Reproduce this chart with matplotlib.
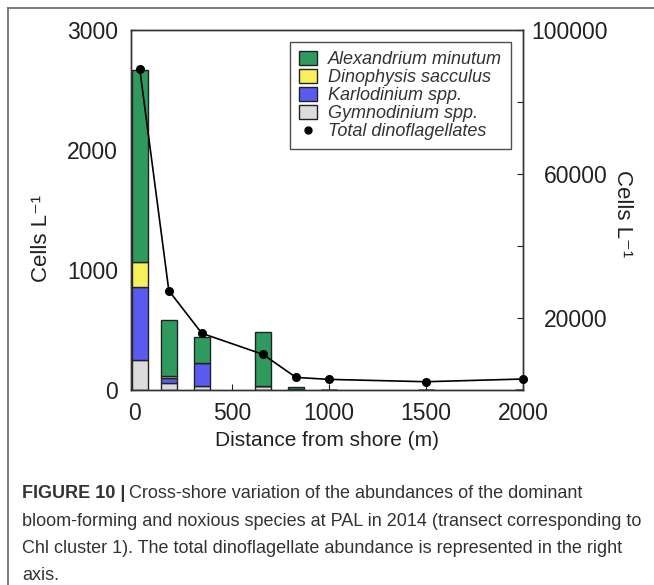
import numpy as np
import matplotlib.pyplot as plt
from matplotlib.lines import Line2D

plt.rcParams['font.family'] = ['Liberation Sans', 'DejaVu Sans']

# Stations along the transect (m from shore)
distance = [25, 175, 345, 660, 830, 1000, 1500, 2000]

# Species abundances (cells per litre), left axis
alexandrium = [1605, 463, 222, 456, 20, 0, 0, 0]
dinophysis = [205, 20, 0, 0, 0, 0, 0, 0]
karlodinium = [610, 40, 192, 0, 0, 0, 0, 0]
gymnodinium = [250, 60, 30, 30, 5, 0, 0, 0]

# Total dinoflagellates (cells per litre), right axis
total_dino = [89200, 27600, 15750, 9900, 3500, 2950, 2300, 3050]

species = [
    ('Gymnodinium spp.', gymnodinium, '#dcdcdc'),
    ('Karlodinium spp.', karlodinium, '#5a5af0'),
    ('Dinophysis sacculus', dinophysis, '#f7f05a'),
    ('Alexandrium minutum', alexandrium, '#2e9a5e'),
]

fig = plt.figure(figsize=(6.54, 5.85), dpi=100)
ax = fig.add_axes([131 / 654, 1 - 390 / 585, 392 / 654, 360 / 585])

bottom = np.zeros(len(distance))
handles = {}
for name, vals, col in species:
    b = ax.bar(distance, vals, width=82, bottom=bottom, color=col,
               edgecolor='#222222', linewidth=1.0, label=name, zorder=2)
    handles[name] = b
    bottom += np.array(vals)

ax.set_xlim(-20, 2000)
ax.set_ylim(0, 3000)
ax.set_xticks([0, 500, 1000, 1500, 2000])
ax.set_yticks([0, 1000, 2000, 3000])
ax.tick_params(direction='in', length=4, labelsize=16.5, colors='#222222')
ax.tick_params(axis='x', pad=9)
ax.tick_params(axis='y', pad=9.5)
ax.set_xlabel('Distance from shore (m)', fontsize=15, color='#222222', va='center')
ax.xaxis.set_label_coords(0.5, -0.139)
ax.set_ylabel('Cells L⁻¹', fontsize=16, color='#222222', va='center')
ax.yaxis.set_label_coords(-0.228, 0.42)

# Total abundance on the secondary axis
ax2 = ax.twinx()
line, = ax2.plot(distance, total_dino, color='black', linewidth=1.2,
                 marker='o', markersize=5.5, clip_on=False, zorder=3)
ax2.set_ylim(0, 100000)
ax2.set_yticks([0, 20000, 40000, 60000, 80000, 100000])
ax2.set_yticklabels(['', '20000', '', '60000', '', '100000'])
ax2.tick_params(direction='in', length=4, labelsize=16.5, colors='#222222', pad=61)
for lbl in ax2.get_yticklabels():
    lbl.set_horizontalalignment('right')
ax2.set_ylabel('Cells L⁻¹', fontsize=16, rotation=-90, color='#222222', va='center')
ax2.yaxis.set_label_coords(1.255, 0.49)

for a in (ax, ax2):
    for s in a.spines.values():
        s.set_linewidth(1.0)
        s.set_color('#333333')

dot = Line2D([], [], color='black', marker='o', markersize=5, linestyle='None')
leg_handles = [handles['Alexandrium minutum'], handles['Dinophysis sacculus'],
               handles['Karlodinium spp.'], handles['Gymnodinium spp.'], dot]
leg_labels = ['Alexandrium minutum', 'Dinophysis sacculus', 'Karlodinium spp.',
              'Gymnodinium spp.', 'Total dinoflagellates']
leg = ax2.legend(leg_handles, leg_labels, loc='upper right',
                 bbox_to_anchor=(0.97, 0.967), prop={'style': 'italic', 'size': 13},
                 frameon=True, fancybox=False, edgecolor='#222222',
                 handlelength=1.0, handleheight=0.8, handletextpad=0.6,
                 labelspacing=0.05, borderpad=0.5, borderaxespad=0)
leg.get_frame().set_linewidth(1.0)
for t in leg.get_texts():
    t.set_color('#333333')

# Outer frame lines
fig.add_artist(Line2D([8 / 654, 1], [1 - 8 / 585, 1 - 8 / 585],
                      transform=fig.transFigure, color='#666666', linewidth=1.2))
fig.add_artist(Line2D([8 / 654, 8 / 654], [0, 1 - 8 / 585],
                      transform=fig.transFigure, color='#666666', linewidth=1.2))

# Caption
cap_x = 22 / 654
cap_size = 13
head = fig.text(cap_x, 1 - 493 / 585, 'FIGURE 10 |', fontsize=cap_size,
                fontweight='bold', color='#333333', va='center')
fig.canvas.draw()
head_end = head.get_window_extent().x1 / fig.bbox.width
fig.text(head_end + 4 / 654, 1 - 493 / 585,
         'Cross-shore variation of the abundances of the dominant',
         fontsize=cap_size, color='#333333', va='center')
caption_lines = [
    'bloom-forming and noxious species at PAL in 2014 (transect corresponding to',
    'Chl cluster 1). The total dinoflagellate abundance is represented in the right',
    'axis.',
]
for i, txt in enumerate(caption_lines):
    fig.text(cap_x, 1 - (521 + 27.5 * i) / 585, txt, fontsize=cap_size,
             color='#333333', va='center')

fig.savefig('out.png', dpi=100)
